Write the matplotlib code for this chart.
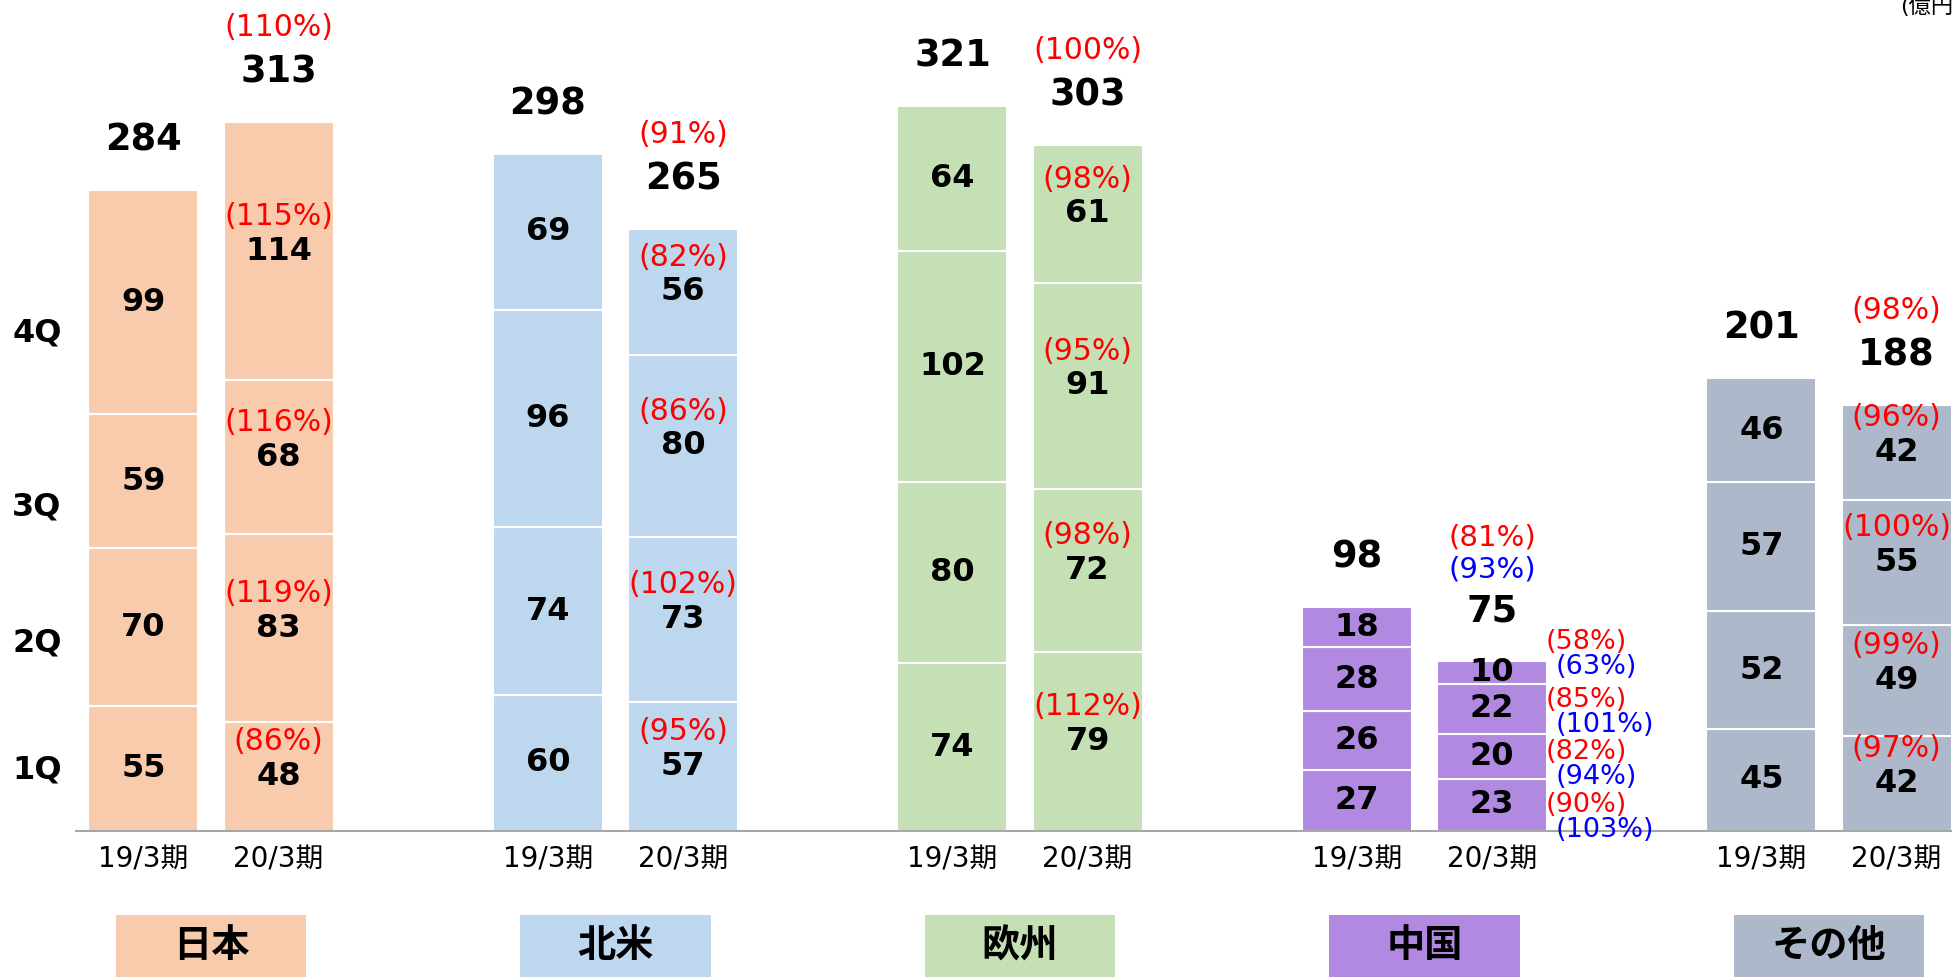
import numpy as np
import matplotlib.pyplot as plt

plt.rcParams['font.family'] = ['DejaVu Sans', 'Noto Sans CJK JP']

regions = ['日本', '北米', '欧州', '中国', 'その他']
periods = ['19/3期', '20/3期']
quarters = ['1Q', '2Q', '3Q', '4Q']
colors = ['#F8CBAD', '#BDD7EE', '#C5E0B4', '#B189E0', '#ADB9CA']
unit = '(億円)'

# quarterly sales 1Q..4Q per region
fy19 = [[55, 70, 59, 99], [60, 74, 96, 69], [74, 80, 102, 64], [27, 26, 28, 18], [45, 52, 57, 46]]
fy20 = [[48, 83, 68, 114], [57, 73, 80, 56], [79, 72, 91, 61], [23, 20, 22, 10], [42, 49, 55, 42]]
total19 = [284, 298, 321, 98, 201]
total20 = [313, 265, 303, 75, 188]

# year-on-year ratio (%) of 20/3 vs 19/3
yoy_q = [[86, 119, 116, 115], [95, 102, 86, 82], [112, 98, 95, 98], [90, 82, 85, 58], [97, 99, 100, 96]]
yoy_total = [110, 91, 100, 81, 98]
# China, local currency basis
cn_local_q = [103, 94, 101, 63]
cn_local_total = 93

CN = 3
RED = '#FF0000'
BLUE = '#0000FF'

fig = plt.figure(figsize=(19.52, 9.77), dpi=100)
ax = fig.add_axes([0, 0, 1, 1])
ax.set_xlim(-0.5216, 4.304)
ax.set_ylim(-64.5, 366.9)
ax.axis('off')

gx = np.arange(len(regions))
off = 0.167
w = 0.272

# baseline
ax.plot([-0.334, 4.5], [0, 0], color='#A6A6A6', lw=1.5, zorder=3)

for i in range(len(regions)):
    for k, (data, x) in enumerate([(fy19[i], gx[i] - off), (fy20[i], gx[i] + off)]):
        bottoms = np.concatenate([[0], np.cumsum(data)[:-1]])
        ax.bar([x] * 4, data, bottom=bottoms, width=w, color=colors[i],
               edgecolor='white', linewidth=1.5, zorder=2)
        for q in range(4):
            yc = bottoms[q] + data[q] / 2
            ax.text(x, yc, str(data[q]), ha='center', va='center',
                    fontsize=23, fontweight='bold', zorder=4)
            if k == 1 and i != CN:
                ax.annotate(f'({yoy_q[i][q]}%)', (x, yc), xytext=(0, 25),
                            textcoords='offset points', ha='center', va='center',
                            fontsize=21.5, color=RED, zorder=4)
            if k == 1 and i == CN:
                dy = [0, 3, 6, 22][q]
                ax.annotate(f'({yoy_q[i][q]}%)', (x + w / 2, yc), xytext=(-1, dy),
                            textcoords='offset points', ha='left', va='center',
                            fontsize=19.5, color=RED, zorder=4)
                ax.annotate(f'({cn_local_q[q]}%)', (x + w / 2, yc), xytext=(6, dy - 18),
                            textcoords='offset points', ha='left', va='center',
                            fontsize=19.5, color=BLUE, zorder=4)
        top = sum(data)
        tot = total19[i] if k == 0 else total20[i]
        ax.annotate(str(tot), (x, top), xytext=(0, 36), textcoords='offset points',
                    ha='center', va='center', fontsize=26.5, fontweight='bold')
        if k == 1:
            if i == CN:
                ax.annotate(f'({yoy_total[i]}%)', (x, top), xytext=(0, 89),
                            textcoords='offset points', ha='center', va='center',
                            fontsize=21, color=RED)
                ax.annotate(f'({cn_local_total}%)', (x, top), xytext=(0, 66),
                            textcoords='offset points', ha='center', va='center',
                            fontsize=21, color=BLUE)
            else:
                ax.annotate(f'({yoy_total[i]}%)', (x, top), xytext=(0, 68),
                            textcoords='offset points', ha='center', va='center',
                            fontsize=21.5, color=RED)
        ax.text(x, -12.8, periods[k], ha='center', va='center', fontsize=20)

# region boxes
ax.bar(gx, 40, bottom=-77.1, width=0.47, color=colors, zorder=2)
for i, r in enumerate(regions):
    ax.text(gx[i], -50.8, r, ha='center', va='center', fontsize=27.5,
            fontweight='bold', family=['Noto Sans CJK JP'], zorder=4)

# quarter labels on the left
for q, yq in zip(quarters, [26.9, 83, 143, 219.9]):
    ax.text(-0.430, yq, q, ha='center', va='center', fontsize=23, fontweight='bold')

ax.text(4.176, 364.0, unit, ha='left', va='center', fontsize=16)

fig.savefig('out.png', dpi=100)
